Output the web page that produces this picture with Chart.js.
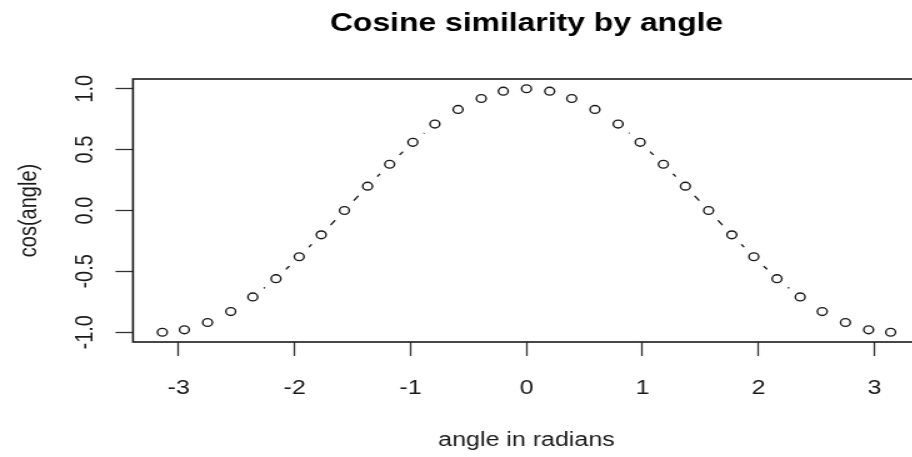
<!DOCTYPE html>
<html>
<head>
<meta charset="utf-8">
<title>Cosine similarity by angle</title>
<script src="https://cdn.jsdelivr.net/npm/chart.js@4.4.1/dist/chart.umd.min.js"></script>
<style>
  html, body { margin: 0; padding: 0; background: #fff; overflow: hidden; }
  #plot { display: block; }
</style>
</head>
<body>
<!-- the reference is stretched sideways, so the canvas is too (inline style so Chart.js keeps it) -->
<canvas id="plot" width="736" height="457" style="width:920px;height:457px"></canvas>
<script>
// ---- Data ----
const angles = [-3.14, -2.95, -2.75, -2.55, -2.36, -2.16, -1.96, -1.77, -1.57, -1.37, -1.18,
                -0.98, -0.79, -0.59, -0.39, -0.20, 0.00, 0.20, 0.39, 0.59, 0.79, 0.98,
                1.18, 1.37, 1.57, 1.77, 1.96, 2.16, 2.36, 2.55, 2.75, 2.95, 3.14];
const cosValues = [-1.00, -0.98, -0.92, -0.83, -0.71, -0.56, -0.38, -0.20, 0.00, 0.20, 0.38,
                   0.56, 0.71, 0.83, 0.92, 0.98, 1.00, 0.98, 0.92, 0.83, 0.71, 0.56,
                   0.38, 0.20, 0.00, -0.20, -0.38, -0.56, -0.71, -0.83, -0.92, -0.98, -1.00];
const xTicks = [-3, -2, -1, 0, 1, 2, 3];
const yTicks = [-1.0, -0.5, 0.0, 0.5, 1.0];

const points = angles.map((a, i) => ({ x: a, y: cosValues[i] }));
const FONT = "'Liberation Sans', Arial, sans-serif";
const INK = "#1a1a1a";

// ---- Box round the plot + rotated y tick labels (R style) ----
const rAxes = {
    id: "rAxes",
    afterDraw(chart) {
        const ctx = chart.ctx;
        const a = chart.chartArea;
        ctx.save();
        ctx.strokeStyle = INK;
        ctx.lineWidth = 1.6;
        ctx.strokeRect(a.left, a.top, a.right - a.left, a.bottom - a.top);

        const ys = chart.scales.y;
        ctx.fillStyle = INK;
        ctx.font = "20px " + FONT;
        ctx.textAlign = "center";
        ctx.textBaseline = "middle";
        ys.ticks.forEach(t => {
            ctx.save();
            ctx.translate(68, ys.getPixelForValue(t.value));
            ctx.rotate(-Math.PI / 2);
            ctx.fillText(t.label, 0, 0);
            ctx.restore();
        });
        ctx.restore();
    }
};

new Chart(document.getElementById("plot"), {
    type: "scatter",
    data: {
        datasets: [
            {
                // open circles
                data: points,
                order: 0,
                showLine: false,
                pointRadius: 3.9,
                pointBorderWidth: 1.4,
                pointBorderColor: INK,
                pointBackgroundColor: "rgba(0,0,0,0)"
            },
            {
                // connecting line, cut short round each point like type = "b"
                data: points,
                order: 1,
                showLine: true,
                borderColor: INK,
                borderWidth: 1.3,
                pointRadius: 12.3,
                pointBorderWidth: 0,
                pointBackgroundColor: "#fff"
            }
        ]
    },
    options: {
        responsive: false,
        animation: false,
        devicePixelRatio: 1,
        events: [],
        layout: { padding: 0, autoPadding: false },
        plugins: {
            legend: { display: false },
            tooltip: { enabled: false },
            title: {
                display: true,
                text: "Cosine similarity by angle",
                fullSize: false,
                color: "#000",
                font: { family: FONT, size: 25.5, weight: "bold" },
                padding: { top: 8.5, bottom: 39.9 }
            }
        },
        scales: {
            x: {
                type: "linear",
                min: -3.393,
                max: 3.393,
                afterBuildTicks: s => { s.ticks = xTicks.map(v => ({ value: v })); },
                afterFit: s => { s.height = 115; s.paddingLeft = 0; s.paddingRight = 0; },
                border: { display: false },
                grid: { drawOnChartArea: false, tickLength: 14, tickColor: "#333", tickWidth: 1.3 },
                ticks: {
                    color: INK,
                    padding: 20,
                    maxRotation: 0,
                    autoSkip: false,
                    font: { family: FONT, size: 20 },
                    callback: v => String(v)
                },
                title: {
                    display: true,
                    text: "angle in radians",
                    color: INK,
                    font: { family: FONT, size: 20 },
                    padding: { top: 0, bottom: 4.5 }
                }
            },
            y: {
                type: "linear",
                min: -1.08,
                max: 1.08,
                afterBuildTicks: s => { s.ticks = yTicks.map(v => ({ value: v })); },
                afterFit: s => { s.width = 106.4; s.paddingTop = 0; s.paddingBottom = 0; },
                border: { display: false },
                grid: { drawOnChartArea: false, tickLength: 14, tickColor: "#333", tickWidth: 1.3 },
                ticks: {
                    display: false,
                    callback: v => v.toFixed(1)
                },
                title: {
                    display: true,
                    text: "cos(angle)",
                    color: INK,
                    font: { family: FONT, size: 20 },
                    padding: { top: 11.2, bottom: 0 }
                }
            }
        }
    },
    plugins: [rAxes]
});
</script>
</body>
</html>
